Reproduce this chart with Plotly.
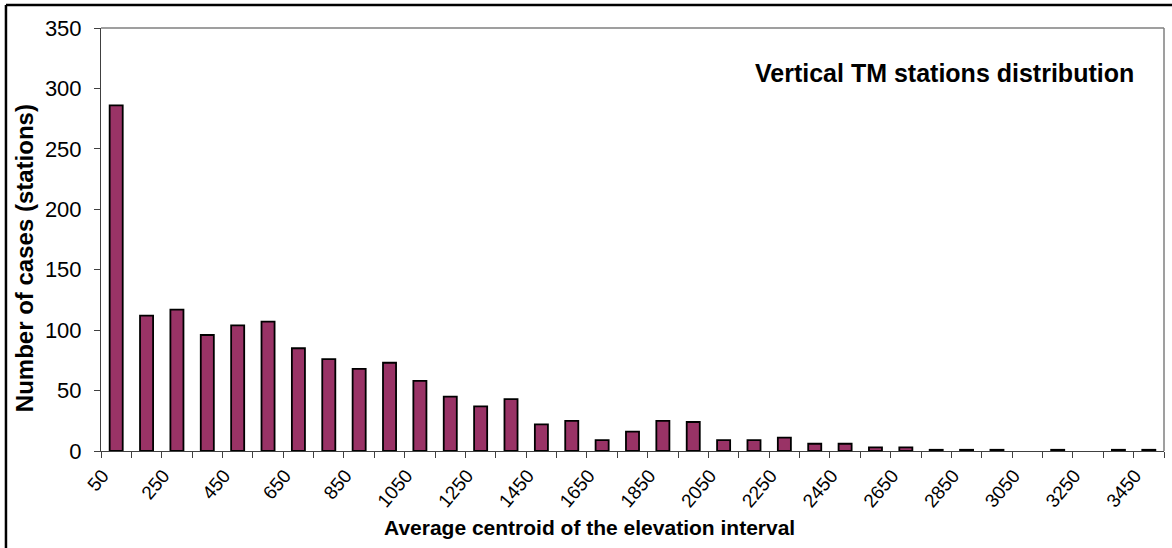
import plotly.graph_objects as go

# Elevation interval centroids (m) and station counts per interval
elevation = [50, 150, 250, 350, 450, 550, 650, 750, 850, 950,
             1050, 1150, 1250, 1350, 1450, 1550, 1650, 1750, 1850, 1950,
             2050, 2150, 2250, 2350, 2450, 2550, 2650, 2750, 2850, 2950,
             3050, 3150, 3250, 3350, 3450]
stations = [286, 112, 117, 96, 104, 107, 85, 76, 68, 73,
            58, 45, 37, 43, 22, 25, 9, 16, 25, 24,
            9, 9, 11, 6, 6, 3, 3, 1, 1, 1,
            0, 1, 0, 1, 1]

# Every other interval gets a label
tick_values = elevation[::2]
tick_labels = [str(v) for v in tick_values]

FONT = "Liberation Sans, Arial, sans-serif"
AXIS_GRAY = "#7f7f7f"
LABEL_SHIFT = 45  # slanted labels sit a little left of their bar

# Empty intervals get no outline so nothing is drawn for them
outline_widths = [1.8 if v > 0 else 0 for v in stations]

fig = go.Figure(
    go.Bar(
        x=elevation,
        y=stations,
        marker=dict(color="#993366",
                    line=dict(color="black", width=outline_widths)),
        hoverinfo="x+y",
    )
)

fig.update_layout(
    width=1172,
    height=548,
    margin=dict(l=101, r=8, t=28, b=97),
    paper_bgcolor="white",
    plot_bgcolor="white",
    bargap=0.57,
    showlegend=False,
    font=dict(family=FONT, color="black"),
)

fig.update_xaxes(
    range=[0, 3500],
    tickmode="array",
    tickvals=[v - LABEL_SHIFT for v in tick_values],
    ticktext=tick_labels,
    tickangle=-50,
    tickfont=dict(size=19, family=FONT),
    ticklabelstandoff=5,
    ticks="",
    minor=dict(ticks="outside", tick0=0, dtick=100, ticklen=6,
               tickcolor="#404040", tickwidth=1),
    showgrid=False,
    showline=True,
    linecolor="#404040",
    linewidth=1,
    mirror=False,
    zeroline=False,
)

fig.update_yaxes(
    range=[0, 350],
    dtick=50,
    tickfont=dict(size=22, family=FONT),
    ticks="outside",
    ticklen=6,
    tickcolor="#404040",
    ticklabelstandoff=8,
    showgrid=False,
    showline=True,
    linecolor="#404040",
    linewidth=1,
    zeroline=False,
)

# Plot area frame on the top and right
fig.add_shape(type="line", xref="paper", yref="paper", x0=0, x1=1, y0=1, y1=1,
              line=dict(color=AXIS_GRAY, width=1.5))
fig.add_shape(type="line", xref="paper", yref="paper", x0=1, x1=1, y0=0, y1=1,
              line=dict(color=AXIS_GRAY, width=1.5))

# Outer chart border (left and top edges)
fig.add_shape(type="line", xref="paper", yref="paper", x0=-0.0894, x1=1.2,
              y0=1.0544, y1=1.0544, line=dict(color="black", width=2.5))
fig.add_shape(type="line", xref="paper", yref="paper", x0=-0.0894, x1=-0.0894,
              y0=-0.5, y1=1.0544, line=dict(color="black", width=2.5))

fig.add_annotation(
    text="<b>Vertical TM stations distribution</b>",
    xref="paper", yref="paper", x=0.9737, y=0.8936,
    xanchor="right", yanchor="middle", showarrow=False,
    font=dict(size=25, family=FONT, color="black"),
)
fig.add_annotation(
    text="<b>Average centroid of the elevation interval</b>",
    xref="paper", yref="paper", x=0.46, y=-0.182,
    xanchor="center", yanchor="middle", showarrow=False,
    font=dict(size=21, family=FONT, color="black"),
)
fig.add_annotation(
    text="<b>Number of cases (stations)</b>",
    xref="paper", yref="paper", x=-0.0724, y=0.456,
    xanchor="center", yanchor="middle", textangle=-90, showarrow=False,
    font=dict(size=24, family=FONT, color="black"),
)

fig.write_html("out.html")
